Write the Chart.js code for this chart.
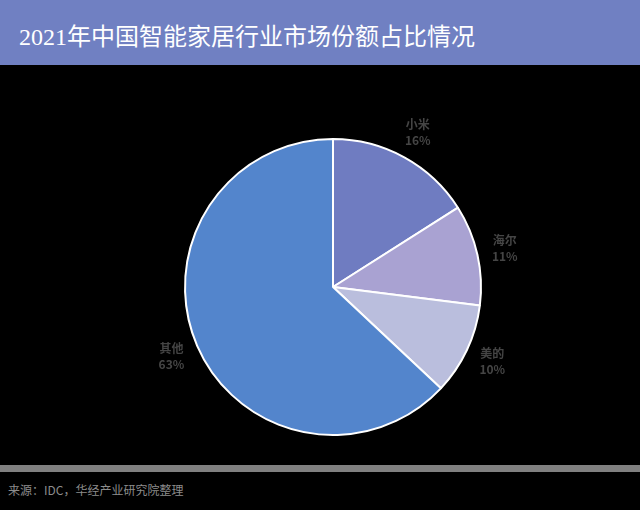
<!DOCTYPE html>
<html>
<head>
<meta charset="utf-8">
<script src="https://cdn.jsdelivr.net/npm/chart.js@4.4.0/dist/chart.umd.min.js"></script>
<style>
  html, body { margin: 0; padding: 0; background: #000; }
  .page { position: relative; width: 640px; height: 510px; background: #000; overflow: hidden; }
  .title-bar {
    height: 65px; background: #7080c2; color: #fff;
    font-family: "Liberation Serif", "Noto Sans CJK SC", serif; font-size: 24px;
    line-height: 74px; padding-left: 19px; box-sizing: border-box;
  }
  .chart-box { position: absolute; left: 0; top: 65px; width: 640px; height: 400px; }
  .rule { position: absolute; left: 0; top: 465px; width: 640px; height: 7px; background: #808080; }
  .source {
    position: absolute; left: 8px; top: 481px; color: #8c8c8c;
    font-family: "Noto Sans CJK SC", sans-serif; font-size: 12px;
  }
</style>
</head>
<body>
<div class="page">
  <div class="title-bar">2021年中国智能家居行业市场份额占比情况</div>
  <div class="chart-box"><canvas id="chart" width="640" height="400"></canvas></div>
  <div class="rule"></div>
  <div class="source">来源：IDC，华经产业研究院整理</div>
</div>
<script>
// market share, %
const brands = ['小米', '海尔', '美的', '其他'];
const shares = [16, 11, 10, 63];
const sliceColors = ['#6f7cc1', '#a9a2d2', '#babedd', '#5385cc'];

// draw "name / pct" outside each slice along its mid angle
const outsideLabels = {
  id: 'outsideLabels',
  afterDatasetsDraw(chart) {
    const ctx = chart.ctx;
    const meta = chart.getDatasetMeta(0);
    ctx.save();
    ctx.fillStyle = '#454545';
    ctx.font = 'bold 12px "Noto Sans CJK SC", sans-serif';
    ctx.textAlign = 'center';
    ctx.textBaseline = 'middle';
    meta.data.forEach((arc, i) => {
      const mid = (arc.startAngle + arc.endAngle) / 2;
      const r = arc.outerRadius + 28;
      const x = arc.x + Math.cos(mid) * r;
      const y = arc.y + Math.sin(mid) * r;
      ctx.fillText(brands[i], x, y - 8);
      ctx.fillText(shares[i] + '%', x, y + 8);
    });
    ctx.restore();
  }
};

new Chart(document.getElementById('chart'), {
  type: 'pie',
  data: {
    labels: brands,
    datasets: [{
      data: shares,
      backgroundColor: sliceColors,
      borderColor: '#ffffff',
      borderWidth: 2
    }]
  },
  options: {
    responsive: false,
    animation: false,
    devicePixelRatio: 1,
    layout: { padding: { left: 40, right: 14, top: 73, bottom: 29 } },
    plugins: {
      legend: { display: false },
      tooltip: { enabled: false }
    }
  },
  plugins: [outsideLabels]
});
</script>
</body>
</html>
